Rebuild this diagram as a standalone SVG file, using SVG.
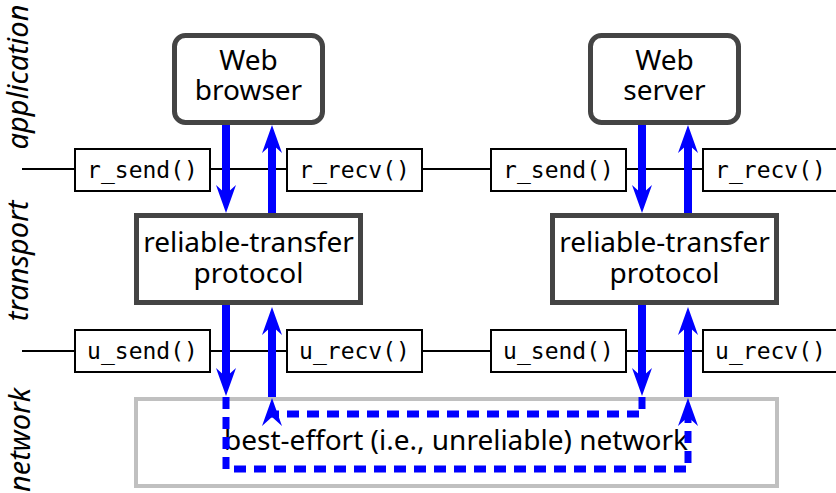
<svg xmlns="http://www.w3.org/2000/svg" xmlns:xlink="http://www.w3.org/1999/xlink" width="836" height="493" viewBox="0 0 836 493">
<style>
.sans{font-family:"Noto Sans","Open Sans","DejaVu Sans",sans-serif;font-size:28px;fill:#000;text-anchor:middle}
.side{font-family:"Noto Sans","Open Sans","DejaVu Sans",sans-serif;font-size:29px;font-style:italic;fill:#000;text-anchor:middle}
.mono{font-family:"DejaVu Sans Mono","Liberation Mono",monospace;font-size:23px;fill:#000;text-anchor:middle}
.app{fill:#fff;stroke:#444;stroke-width:5}
.fn{fill:#fff;stroke:#000;stroke-width:2}
.net{fill:#fff;stroke:#c0c0c0;stroke-width:4}
.shaft{stroke:#0000ff;stroke-width:8;fill:none}
.dash{stroke:#0000ff;stroke-width:7;fill:none;stroke-dasharray:12 8}
.hline{stroke:#000;stroke-width:2}
</style>
<defs>
<path id="ah" d="M0,0 L-10,-28 L0,-19 L10,-28 Z" fill="#0000ff"/>
</defs>
<g id="side-labels">
<text class="side" transform="translate(28,77) rotate(-90)">application</text>
<text class="side" transform="translate(28,261) rotate(-90)">transport</text>
<text class="side" transform="translate(30,440) rotate(-90)">network</text>
</g>
<g id="layer-lines">
<line class="hline" x1="22" y1="169" x2="836" y2="169"/>
<line class="hline" x1="22" y1="351" x2="836" y2="351"/>
</g>
<g id="network">
<rect class="net" x="136" y="399" width="641" height="87"/>
<text class="sans" x="456" y="450">best-effort (i.e., unreliable) network</text>
</g>
<g id="browser">
<rect class="app" x="174.5" y="35.5" width="148" height="87" rx="11"/>
<text class="sans" x="248.5" y="70">Web</text>
<text class="sans" x="248.5" y="100">browser</text>
</g>
<g id="server">
<rect class="app" x="590.5" y="35.5" width="148" height="87" rx="11"/>
<text class="sans" x="664.5" y="70">Web</text>
<text class="sans" x="664.5" y="100">server</text>
</g>
<g id="rtp-left">
<rect class="app" x="136.5" y="215.5" width="224" height="87"/>
<text class="sans" x="248.5" y="252">reliable-transfer</text>
<text class="sans" x="248.5" y="283">protocol</text>
</g>
<g id="rtp-right">
<rect class="app" x="552.5" y="215.5" width="224" height="87"/>
<text class="sans" x="664.5" y="252">reliable-transfer</text>
<text class="sans" x="664.5" y="283">protocol</text>
</g>
<g id="connectors">
<line class="shaft" x1="226" y1="125" x2="226" y2="200"/>
<use xlink:href="#ah" transform="translate(226,213)"/>
<line class="shaft" x1="272" y1="213" x2="272" y2="140"/>
<use xlink:href="#ah" transform="translate(272,125) rotate(180)"/>
<line class="shaft" x1="642" y1="125" x2="642" y2="200"/>
<use xlink:href="#ah" transform="translate(642,213)"/>
<line class="shaft" x1="688" y1="213" x2="688" y2="140"/>
<use xlink:href="#ah" transform="translate(688,125) rotate(180)"/>
<line class="shaft" x1="226" y1="305" x2="226" y2="383"/>
<use xlink:href="#ah" transform="translate(226,396)"/>
<line class="shaft" x1="272" y1="397" x2="272" y2="320"/>
<use xlink:href="#ah" transform="translate(272,307) rotate(180)"/>
<line class="shaft" x1="642" y1="305" x2="642" y2="383"/>
<use xlink:href="#ah" transform="translate(642,396)"/>
<line class="shaft" x1="688" y1="397" x2="688" y2="320"/>
<use xlink:href="#ah" transform="translate(688,307) rotate(180)"/>
<path class="dash" d="M226,397 V469 H688 V415"/>
<use xlink:href="#ah" transform="translate(688,398) rotate(180)"/>
<path class="dash" d="M642,397 V414 H272 V412"/>
<use xlink:href="#ah" transform="translate(272,398) rotate(180)"/>
</g>
<g id="r-send-left">
<rect class="fn" x="75" y="149" width="135" height="42"/>
<text class="mono" x="142.5" y="178">r_send()</text>
</g>
<g id="r-recv-left">
<rect class="fn" x="287" y="149" width="135" height="42"/>
<text class="mono" x="354.5" y="178">r_recv()</text>
</g>
<g id="r-send-right">
<rect class="fn" x="491" y="149" width="135" height="42"/>
<text class="mono" x="558.5" y="178">r_send()</text>
</g>
<g id="r-recv-right">
<rect class="fn" x="703" y="149" width="140" height="42"/>
<text class="mono" x="770.5" y="178">r_recv()</text>
</g>
<g id="u-send-left">
<rect class="fn" x="75" y="330" width="135" height="42"/>
<text class="mono" x="142.5" y="359">u_send()</text>
</g>
<g id="u-recv-left">
<rect class="fn" x="287" y="330" width="135" height="42"/>
<text class="mono" x="354.5" y="359">u_recv()</text>
</g>
<g id="u-send-right">
<rect class="fn" x="491" y="330" width="135" height="42"/>
<text class="mono" x="558.5" y="359">u_send()</text>
</g>
<g id="u-recv-right">
<rect class="fn" x="703" y="330" width="140" height="42"/>
<text class="mono" x="770.5" y="359">u_recv()</text>
</g>
</svg>
